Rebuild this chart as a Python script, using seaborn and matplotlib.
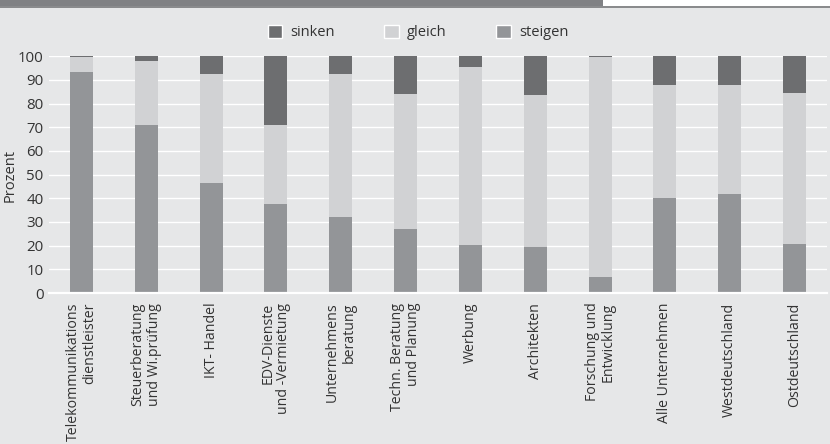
import matplotlib
matplotlib.use("Agg")
import matplotlib.pyplot as plt
import seaborn as sns
import pandas as pd
import numpy as np
from matplotlib.patches import Patch, Rectangle

categories = [
    "Telekommunikations\ndienstleister",
    "Steuerberatung\nund Wi.prüfung",
    "IKT- Handel",
    "EDV-Dienste\nund -Vermietung",
    "Unternehmens\nberatung",
    "Techn. Beratung\nund Planung",
    "Werbung",
    "Architekten",
    "Forschung und\nEntwicklung",
    "Alle Unternehmen",
    "Westdeutschland",
    "Ostdeutschland",
]
steigen = [93.5, 70.8, 46.3, 37.8, 32.2, 27.1, 20.3, 19.6, 6.8, 40.3, 41.9, 20.8]
gleich = [6.0, 27.1, 46.1, 33.0, 60.2, 56.8, 75.0, 64.0, 92.8, 47.4, 45.8, 63.5]
sinken = [0.5, 2.1, 7.6, 29.2, 7.6, 16.1, 4.7, 16.4, 0.4, 12.3, 12.3, 15.7]
yticks = list(range(0, 101, 10))

c_sinken = "#6d6e70"
c_gleich = "#d1d2d4"
c_steigen = "#939598"
bg = "#e6e7e8"
txt = "#333333"

sns.set_theme(style="white")
plt.rcParams["font.family"] = ["Open Sans", "DejaVu Sans"]

df = pd.DataFrame({"cat": categories, "steigen": steigen, "gleich": gleich, "sinken": sinken})
df["top_gleich"] = df["steigen"] + df["gleich"]
df["top_sinken"] = df["top_gleich"] + df["sinken"]

fig = plt.figure(figsize=(8.3, 4.44), dpi=100, facecolor=bg)
ax = fig.add_axes([49 / 830, 1 - 293 / 444, (827 - 49) / 830, (293 - 56.3) / 444])
ax.set_facecolor(bg)

bw = 0.355
kw = dict(width=bw, ax=ax, saturation=1, linewidth=0, edgecolor="none", zorder=3)
sns.barplot(data=df, x="cat", y="top_sinken", color=c_sinken, **kw)
sns.barplot(data=df, x="cat", y="top_gleich", color=c_gleich, **kw)
sns.barplot(data=df, x="cat", y="steigen", color=c_steigen, **kw)

ax.set_xlim(-0.5, len(categories) - 0.5)
ax.set_ylim(0, 100)
ax.set_yticks(yticks)
ax.set_yticklabels([str(v) for v in yticks], fontsize=10.8, color=txt)
ax.yaxis.grid(True, color="white", linewidth=1.0, zorder=0)
ax.set_axisbelow(True)
for s in ["top", "right", "left"]:
    ax.spines[s].set_visible(False)
ax.spines["bottom"].set_color("white")
ax.spines["bottom"].set_linewidth(1.6)
ax.spines["bottom"].set_zorder(4)

ax.set_xticks(range(len(categories)))
ax.set_xticklabels(categories, rotation=90, fontsize=10.2, color=txt,
                   ha="center", va="top", multialignment="right", linespacing=1.1)
ax.tick_params(axis="x", which="major", length=0, pad=7)
ax.set_xticks(np.arange(-0.5, len(categories), 1.0), minor=True)
ax.tick_params(axis="x", which="minor", length=7, width=1.2, color="white", direction="out")
ax.tick_params(axis="y", length=0, pad=4)
ax.set_xlabel("")
ax.set_ylabel("")
fig.text(10 / 830, 1 - 175 / 444, "Prozent", rotation=90, fontsize=10.5, color=txt,
         ha="center", va="center")

handles = [Patch(facecolor=c_sinken, label="sinken"),
           Patch(facecolor=c_gleich, label="gleich"),
           Patch(facecolor=c_steigen, label="steigen")]
leg = fig.legend(handles=handles, loc="center", bbox_to_anchor=(418 / 830, 1 - 32.5 / 444),
                 ncol=3, frameon=False, fontsize=10.5, handlelength=1.0, handleheight=1.0,
                 handletextpad=0.55, columnspacing=3.4)
for t in leg.get_texts():
    t.set_color(txt)

# top header band
fig.patches.append(Rectangle((0, 1 - 8 / 444), 603 / 830, 8 / 444, transform=fig.transFigure,
                             facecolor="#808184", edgecolor="none", zorder=0))
fig.patches.append(Rectangle((603 / 830, 1 - 6 / 444), 227 / 830, 6 / 444, transform=fig.transFigure,
                             facecolor="white", edgecolor="none", zorder=0))
fig.patches.append(Rectangle((0, 1 - 8 / 444), 1, 2 / 444, transform=fig.transFigure,
                             facecolor="#8a8b8d", edgecolor="none", zorder=0))

fig.savefig("out.png", dpi=100, facecolor=bg)
